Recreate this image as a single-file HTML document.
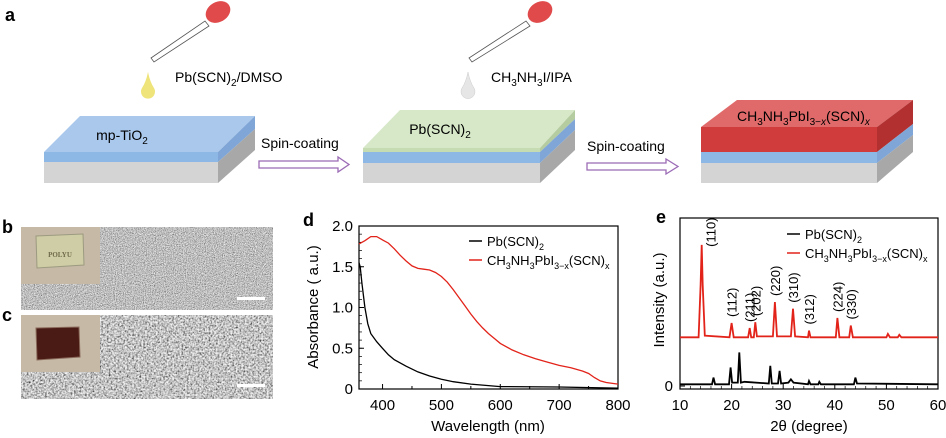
<!DOCTYPE html>
<html><head><meta charset="utf-8">
<style>
html,body{margin:0;padding:0;background:#fff;}
svg{display:block;font-family:"Liberation Sans",Arial,sans-serif;}
</style></head>
<body>
<svg id="fig" width="946" height="438" viewBox="0 0 946 438" xmlns="http://www.w3.org/2000/svg">
<defs>
  <filter id="semB" x="0" y="0" width="100%" height="100%">
    <feTurbulence type="fractalNoise" baseFrequency="1.1" numOctaves="2" seed="3" result="n"/>
    <feComponentTransfer in="n"><feFuncR type="linear" slope="1.8" intercept="-0.38"/><feFuncG type="linear" slope="1.8" intercept="-0.38"/><feFuncB type="linear" slope="1.8" intercept="-0.38"/><feFuncA type="linear" slope="0" intercept="1"/></feComponentTransfer>
    <feColorMatrix type="saturate" values="0"/>
  </filter>
  <filter id="semC" x="0" y="0" width="100%" height="100%">
    <feTurbulence type="fractalNoise" baseFrequency="0.55" numOctaves="3" seed="7" result="n"/>
    <feComponentTransfer in="n"><feFuncR type="linear" slope="2.2" intercept="-0.55"/><feFuncG type="linear" slope="2.2" intercept="-0.55"/><feFuncB type="linear" slope="2.2" intercept="-0.55"/><feFuncA type="linear" slope="0" intercept="1"/></feComponentTransfer>
    <feColorMatrix type="saturate" values="0"/>
  </filter>
</defs>

<!-- Panel a -->
<text x="5" y="21" font-size="18" font-weight="bold">a</text>

<g>
  <polygon points="151,58 205,21 209,26 154,62" fill="#fff" stroke="#555" stroke-width="0.8"/>
  <ellipse cx="218" cy="12" rx="13" ry="10" transform="rotate(-30 218 12)" fill="#e04a4a"/>
  <path d="M148,72 Q146,82 142,88 A7,7 0 1 0 154,88 Q150,82 148,72Z" fill="#eee47a"/>
</g>
<text x="175" y="82" font-size="14">Pb(SCN)<tspan font-size="10" dy="4">2</tspan><tspan dy="-4">/DMSO</tspan></text>

<g>
  <polygon points="469,58 526,21 530,26 472,62" fill="#fff" stroke="#555" stroke-width="0.8"/>
  <ellipse cx="540" cy="12" rx="13" ry="10" transform="rotate(-30 540 12)" fill="#e04a4a"/>
  <path d="M468,72 Q466,82 462,88 A7,7 0 1 0 474,88 Q470,82 468,72Z" fill="#e6e6e6" stroke="#ccc" stroke-width="0.5"/>
</g>
<text x="491" y="82" font-size="14">CH<tspan font-size="10" dy="4">3</tspan><tspan dy="-4">NH</tspan><tspan font-size="10" dy="4">3</tspan><tspan dy="-4">I/IPA</tspan></text>

<g>
  <polygon points="44,152 80,116 255,116 218,152" fill="#a9c8ec"/>
  <polygon points="218,152 255,116 255,129 218,162" fill="#7fa6d6"/>
  <polygon points="218,162 255,129 255,150 218,183" fill="#a8a8a8"/>
  <rect x="44" y="152" width="174" height="10" fill="#8db8e6"/>
  <rect x="44" y="162" width="174" height="21" fill="#d4d4d4"/>
  <text x="122" y="140" font-size="14" text-anchor="middle">mp-TiO<tspan font-size="10" dy="4">2</tspan></text>
</g>
<g>
  <polygon points="363,148 400,110 575,110 540,148" fill="#d6e8c8"/>
  <polygon points="540,148 575,110 575,119 540,152" fill="#b4cca0"/>
  <polygon points="540,152 575,119 575,130 540,163" fill="#7fa6d6"/>
  <polygon points="540,163 575,130 575,150 540,183" fill="#a8a8a8"/>
  <rect x="363" y="148" width="177" height="4" fill="#c5dcb3"/>
  <rect x="363" y="152" width="177" height="11" fill="#8db8e6"/>
  <rect x="363" y="163" width="177" height="20" fill="#d4d4d4"/>
  <text x="440" y="134" font-size="14" text-anchor="middle">Pb(SCN)<tspan font-size="10" dy="4">2</tspan></text>
</g>
<g>
  <polygon points="701,127 737,100 913,100 877,127" fill="#e06a6a"/>
  <polygon points="877,127 913,100 913,124 877,152" fill="#b23030"/>
  <polygon points="877,152 913,124 913,135 877,163" fill="#7fa6d6"/>
  <polygon points="877,163 913,135 913,152 877,183" fill="#a8a8a8"/>
  <rect x="701" y="127" width="176" height="25" fill="#d03c3c"/>
  <rect x="701" y="152" width="176" height="11" fill="#8db8e6"/>
  <rect x="701" y="163" width="176" height="20" fill="#d4d4d4"/>
  <text x="737" y="121" font-size="14">CH<tspan font-size="10" dy="4">3</tspan><tspan dy="-4">NH</tspan><tspan font-size="10" dy="4">3</tspan><tspan dy="-4">PbI</tspan><tspan font-size="10" dy="4">3−<tspan font-style="italic">x</tspan></tspan><tspan dy="-4">(SCN)</tspan><tspan font-size="10" dy="4" font-style="italic">x</tspan></text>
</g>

<g>
  <text x="261" y="148" font-size="14">Spin-coating</text>
  <polygon points="259,161 338,161 338,157 349,164.5 338,172 338,168 259,168" fill="#fff" stroke="#9b6bb5" stroke-width="1.3"/>
</g>
<g>
  <text x="587" y="151" font-size="14">Spin-coating</text>
  <polygon points="587,163 666,163 666,159 678,166.5 666,174 666,170 587,170" fill="#fff" stroke="#9b6bb5" stroke-width="1.3"/>
</g>

<!-- Panels b, c -->
<text x="2" y="233" font-size="18" font-weight="bold">b</text>
<text x="2" y="321" font-size="18" font-weight="bold">c</text>
<g>
  <rect x="21" y="227" width="252" height="83" filter="url(#semB)"/>
  <rect x="21" y="227" width="79" height="57" fill="#c6b9a6"/>
  <polygon points="36,236 83,234 84,265 37,268" fill="#cfcda5" stroke="#9c9a80" stroke-width="1"/>
  <text x="60" y="257" font-size="7" font-family="Liberation Serif,serif" font-weight="bold" fill="#6f6a4c" text-anchor="middle">POLYU</text>
  <rect x="237" y="297" width="28" height="3" fill="#fff"/>
</g>
<g>
  <rect x="21" y="315" width="252" height="84" filter="url(#semC)"/>
  <rect x="21" y="315" width="79" height="57" fill="#c6b9a6"/>
  <polygon points="36,328 79,327 80,357 37,360" fill="#4a1a14" stroke="#8a6a5a" stroke-width="1"/>
  <rect x="237" y="384" width="28" height="3" fill="#fff"/>
</g>

<!-- Panel d -->
<text x="303" y="226" font-size="18" font-weight="bold">d</text>
<g id="chartD"></g>
<g>
  <line x1="469" x2="482" y1="241" y2="241" stroke="#000" stroke-width="1.5"/>
  <text x="487" y="246" font-size="13">Pb(SCN)<tspan font-size="9" dy="4">2</tspan></text>
  <line x1="469" x2="482" y1="260" y2="260" stroke="#e2231a" stroke-width="1.5"/>
  <text x="487" y="265" font-size="13">CH<tspan font-size="9" dy="4">3</tspan><tspan dy="-4">NH</tspan><tspan font-size="9" dy="4">3</tspan><tspan dy="-4">PbI</tspan><tspan font-size="9" dy="4">3−x</tspan><tspan dy="-4">(SCN)</tspan><tspan font-size="9" dy="4">x</tspan></text>
</g>
<!-- Panel e -->
<text x="656" y="223" font-size="18" font-weight="bold">e</text>
<g id="chartE"></g>
<g>
  <line x1="787" x2="800" y1="234" y2="234" stroke="#000" stroke-width="1.5"/>
  <text x="805" y="239" font-size="13">Pb(SCN)<tspan font-size="9" dy="4">2</tspan></text>
  <line x1="787" x2="800" y1="253" y2="253" stroke="#e2231a" stroke-width="1.5"/>
  <text x="805" y="258" font-size="13">CH<tspan font-size="9" dy="4">3</tspan><tspan dy="-4">NH</tspan><tspan font-size="9" dy="4">3</tspan><tspan dy="-4">PbI</tspan><tspan font-size="9" dy="4">3−x</tspan><tspan dy="-4">(SCN)</tspan><tspan font-size="9" dy="4">x</tspan></text>
</g>

<script>
var dWavelengthRed=[360,370,380,390,400,410,420,430,440,450,460,470,480,490,500,510,520,530,540,550,560,570,580,590,600,620,640,660,680,700,720,740,750,760,770,780,800];
var dAbsRed=[1.78,1.82,1.87,1.87,1.83,1.79,1.72,1.64,1.57,1.51,1.48,1.47,1.46,1.43,1.38,1.31,1.22,1.12,1.02,0.92,0.83,0.75,0.68,0.62,0.56,0.48,0.42,0.37,0.33,0.29,0.26,0.22,0.19,0.14,0.10,0.08,0.06];
var dWavelengthBlack=[360,362,365,370,375,380,390,400,410,420,440,460,480,500,520,550,600,700,800];
var dAbsBlack=[1.55,1.5,1.3,1.0,0.8,0.68,0.58,0.5,0.42,0.36,0.28,0.21,0.16,0.12,0.09,0.06,0.03,0.025,0.01];
var dXTicks=[400,500,600,700,800];
var dYTicks=[0,0.5,1.0,1.5,2.0];
var dYTickLabels=["0","0.5","1.0","1.5","2.0"];

var eTwoThetaRed=[10,13.6,14.0,14.2,14.4,14.8,19.6,20,20.4,23.2,23.5,23.8,24.3,24.6,24.9,28.0,28.4,28.8,31.5,31.9,32.3,34.8,35,35.3,40.2,40.5,40.9,42.8,43.1,43.5,50,50.3,50.7,52.2,52.5,52.9,60];
var eIntRed=[29,29,60,84,60,30,29,37.5,29,29,34.5,29,29,38,29.5,29.5,50,29.5,29.5,46,29.5,29,33,29,29,40.5,29,29,36,29,29,31,29,29,30.5,29,29];
var eTwoThetaBlack=[10,16.2,16.5,16.8,19.5,19.8,20.1,21.2,21.5,21.8,22.5,27.2,27.5,27.8,29.0,29.3,29.6,31,31.5,32,34.8,35,35.3,36.8,37,37.3,43.7,44,44.3,60];
var eIntBlack=[1,1,5,1,1,11,2,2,20,2,2.5,1.5,12,1.5,1.5,9,1.5,2,4,2,1,3,1,1,2.5,1,1,5,1.5,1];
var eXTicks=[10,20,30,40,50,60];
var ePeakLabels=["(110)","(112)","(211)","(202)","(220)","(310)","(312)","(224)","(330)"];
var ePeakPos=[14.2,20,23.5,24.6,28.4,31.9,35,40.5,43.1];
var ePeakInt=[84,37.5,34.5,38,50,46,33,40.5,36];

var NS="http://www.w3.org/2000/svg";
function mk(parent,tag,attrs){var e=document.createElementNS(NS,tag);for(var k in attrs)e.setAttribute(k,attrs[k]);parent.appendChild(e);return e;}
function pathOf(xs,ys,fx,fy){return xs.map(function(v,i){return (i?'L':'M')+fx(v).toFixed(1)+','+fy(ys[i]).toFixed(1);}).join(' ');}

var dX=function(v){return 359+(v-360)/(800-360)*(618-359);};
var dY=function(v){return 389-v/2*(389-226);};
var gd=document.getElementById('chartD');
var fr=mk(gd,'rect',{x:359,y:226,width:259,height:163,fill:'none',stroke:'#000','stroke-width':1.2});


dXTicks.forEach(function(t){
  var l=mk(gd,'line',{x1:dX(t),x2:dX(t),y1:389,y2:384,stroke:'#000'});
  
  
  var tx=mk(gd,'text',{x:dX(t),y:410,'font-size':15,'text-anchor':'middle'});tx.textContent=t;
  
  
});
[450,550,650,750].forEach(function(t){mk(gd,'line',{x1:dX(t),x2:dX(t),y1:389,y2:386,stroke:'#000'});});
dYTicks.forEach(function(t,i){
  var l=mk(gd,'line',{x1:359,x2:364,y1:dY(t),y2:dY(t),stroke:'#000'});
  
  
  var tx=mk(gd,'text',{x:353,y:dY(t)+5,'font-size':15,'text-anchor':'end'});tx.textContent=dYTickLabels[i];
  
  
});
for(var m=0.1;m<2;m+=0.1){mk(gd,'line',{x1:359,x2:362,y1:dY(m),y2:dY(m),stroke:'#000','stroke-width':0.7});}
var xt=mk(gd,'text',{x:488,y:431,'font-size':15,'text-anchor':'middle'});xt.textContent='Wavelength (nm)';


var yt=mk(gd,'text',{x:0,y:0,'font-size':15,'text-anchor':'middle',transform:'translate(318,307) rotate(-90)'});yt.textContent='Absorbance ( a.u.)';


var pr=mk(gd,'path',{d:pathOf(dWavelengthRed,dAbsRed,dX,dY),fill:'none',stroke:'#e2231a','stroke-width':1.3});


var pb=mk(gd,'path',{d:pathOf(dWavelengthBlack,dAbsBlack,dX,dY),fill:'none',stroke:'#000','stroke-width':1.3});



var eX=function(v){return 680+(v-10)/50*(938-680);};
var eY=function(v){return 386-v/100*(386-218);};
var ge=document.getElementById('chartE');
var fe=mk(ge,'rect',{x:680,y:218,width:258,height:171,fill:'none',stroke:'#000','stroke-width':1.2});


eXTicks.forEach(function(t){
  var l=mk(ge,'line',{x1:eX(t),x2:eX(t),y1:389,y2:384,stroke:'#000'});
  
  
  var tx=mk(ge,'text',{x:eX(t),y:410,'font-size':15,'text-anchor':'middle'});tx.textContent=t;
  
  
});
for(var k=12;k<60;k+=2){if(k%10)mk(ge,'line',{x1:eX(k),x2:eX(k),y1:389,y2:386,stroke:'#000','stroke-width':0.7});}
mk(ge,'line',{x1:680,x2:685,y1:eY(0),y2:eY(0),stroke:'#000'});
var z=mk(ge,'text',{x:673,y:eY(0)+5,'font-size':15,'text-anchor':'end'});z.textContent='0';


var xe=mk(ge,'text',{x:809,y:431,'font-size':15,'text-anchor':'middle'});xe.textContent='2θ (degree)';


var ye=mk(ge,'text',{x:0,y:0,'font-size':15,'text-anchor':'middle',transform:'translate(664,300) rotate(-90)'});ye.textContent='Intensity (a.u.)';


var er=mk(ge,'path',{d:pathOf(eTwoThetaRed,eIntRed,eX,eY),fill:'none',stroke:'#e2231a','stroke-width':1.8});


var eb=mk(ge,'path',{d:pathOf(eTwoThetaBlack,eIntBlack,eX,eY),fill:'none',stroke:'#000','stroke-width':1.8});


ePeakLabels.forEach(function(s,i){
  var px=eX(ePeakPos[i])+(i===0?9:0);
  var py=eY(ePeakInt[i])-(i===0?-2:6);
  var tx=mk(ge,'text',{x:0,y:0,'font-size':13,'text-anchor':'start',transform:'translate('+(px+5)+','+py+') rotate(-90)'});
  tx.textContent=s;
  
  
});
</script>
</svg>
</body></html>
